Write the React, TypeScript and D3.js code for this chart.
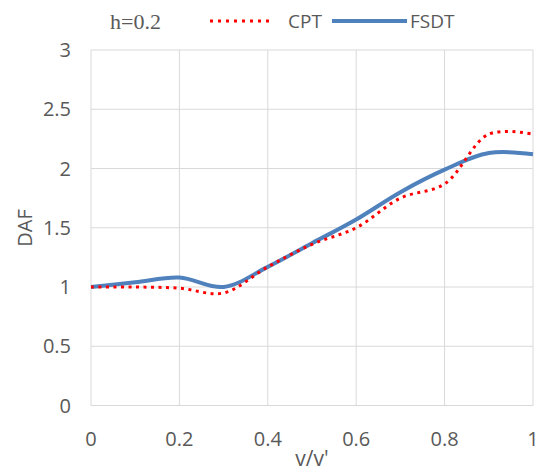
import React from "react";
import * as d3 from "d3";

const xValues = [0, 0.1, 0.2, 0.3, 0.4, 0.5, 0.6, 0.7, 0.8, 0.9, 1.0];
const cptValues = [1.0, 1.0, 0.99, 0.95, 1.17, 1.36, 1.5, 1.75, 1.87, 2.29, 2.29];
const fsdtValues = [1.0, 1.04, 1.08, 1.0, 1.17, 1.37, 1.57, 1.8, 1.99, 2.13, 2.12];
const xTicks = [0, 0.2, 0.4, 0.6, 0.8, 1];
const yTicks = [0, 0.5, 1, 1.5, 2, 2.5, 3];

export default function App() {
  const W = 544, H = 471;
  const x = d3.scaleLinear().domain([0, 1]).range([91, 533]);
  const y = d3.scaleLinear().domain([0, 3]).range([405.5, 50]);
  const line = d3
    .line<number>()
    .x((_, i) => x(xValues[i]))
    .y((d) => y(d))
    .curve(d3.curveCatmullRom.alpha(0.5));
  const font = "'Open Sans', sans-serif";
  const txt = "#595959";
  return (
    <svg width={W} height={H} style={{ position: "absolute", left: 0, top: 0 }}>
      <rect width={W} height={H} fill="#fff" />
      {xTicks.map((t) => (
        <line key={"gx" + t} x1={x(t)} x2={x(t)} y1={y(0)} y2={y(3)} stroke="#D9D9D9" strokeWidth={1} />
      ))}
      {yTicks.map((t) => (
        <line key={"gy" + t} x1={x(0)} x2={x(1)} y1={y(t)} y2={y(t)} stroke="#D9D9D9" strokeWidth={1} />
      ))}
      {yTicks.map((t) => (
        <text key={"ty" + t} x={71} y={y(t)} dy="0.35em" textAnchor="end" fontSize={20} fill={txt} fontFamily={font}>
          {t}
        </text>
      ))}
      {xTicks.map((t) => (
        <text key={"tx" + t} x={x(t)} y={439} dy="0.35em" textAnchor="middle" fontSize={20} fill={txt} fontFamily={font}>
          {t}
        </text>
      ))}
      <text x={312} y={459} dy="0.35em" textAnchor="middle" fontSize={21} fill={txt} fontFamily={font}>
        v/v'
      </text>
      <text transform={`translate(25,228) rotate(-90)`} dy="0.35em" textAnchor="middle" fontSize={20} fill={txt} fontFamily={font}>
        DAF
      </text>
      <path d={line(fsdtValues) || ""} fill="none" stroke="#4F81BD" strokeWidth={4} strokeLinejoin="round" />
      <path d={line(cptValues) || ""} fill="none" stroke="#FF0000" strokeWidth={3} strokeDasharray="3 4.5" />
      <text x={110} y={21} dy="0.35em" fontSize={22} fill={txt} fontFamily="'Liberation Serif', 'Times New Roman', serif">
        h=0.2
      </text>
      <line x1={210} x2={272} y1={21} y2={21} stroke="#FF0000" strokeWidth={3} strokeDasharray="3 5" />
      <text x={288} y={21} dy="0.35em" fontSize={19} fill={txt} fontFamily={font}>CPT</text>
      <line x1={332} x2={407} y1={21} y2={21} stroke="#4F81BD" strokeWidth={4} />
      <text x={410} y={21} dy="0.35em" fontSize={19} fill={txt} fontFamily={font}>FSDT</text>
    </svg>
  );
}
